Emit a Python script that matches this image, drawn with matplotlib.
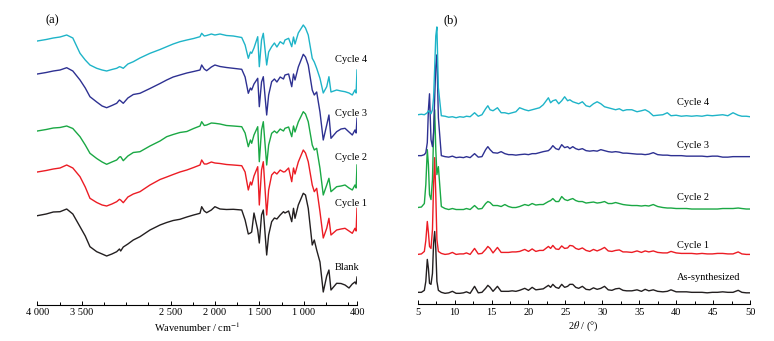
import matplotlib
matplotlib.use("Agg")
import matplotlib.pyplot as plt
from matplotlib.ticker import FixedLocator

plt.rcParams['font.family'] = ['Liberation Serif', 'DejaVu Serif']
plt.rcParams['mathtext.fontset'] = 'stix'
plt.rcParams['font.size'] = 7.5

# ---------------- FTIR data (panel a) ----------------
wavenumber = [4000, 3900, 3820, 3744, 3669, 3600, 3519, 3460, 3407, 3331, 3270, 3219, 3160, 3106,
              3075, 3061, 3032, 2980, 2919, 2844, 2731, 2618, 2543, 2470, 2394, 2316, 2240, 2168,
              2149, 2120, 2093, 2040, 2000, 1943, 1870, 1793, 1698, 1660, 1624, 1600, 1586, 1560,
              1518, 1500, 1475, 1455, 1417, 1395, 1361, 1330, 1302, 1265, 1228, 1211, 1170, 1135,
              1115, 1098, 1061, 1005, 980, 949, 904, 881, 854, 817, 780, 741, 716, 693, 629, 580,
              535, 490, 453, 423, 410, 400]

ir_blank = [0, 1.7, 3.7, 4, 6.7, 1.7, -11, -20.3, -31, -36,
            -38.3, -40.3, -38.3, -36, -33.3, -35.3, -31.3, -28.3, -24.3, -21,
            -14.3, -9.3, -6.8, -4.8, -3.6, -1.3, 0.7, 2.4, 9, 4.7,
            3, 5.7, 9, 6.7, 6.2, 6.4, 5.7, -4.3, -18.3, -17.3,
            -16.3, 2.7, -14.3, -27.3, 0.7, 5.7, -39.3, -19.3, -6, -2.3,
            -3.3, 0.7, 4, 2.7, 4.7, -6, 7.4, -2.6, 10.7, 22.4,
            20.7, 7.4, -29.3, -24.3, -34.3, -46.3, -76.3, -60.3, -54.3, -74.3,
            -67.6, -67.8, -69.3, -72.3, -68.3, -66.3, -68.3, -61.3]
ir_cycle1 = [0, 1.5, 3, 4, 7, 4, -4.7, -15, -26.3, -30.5,
             -33, -34, -32, -29.7, -27.3, -28, -30.7, -25, -22, -19.7,
             -13, -7.5, -5, -2.5, 0, 2, 4.5, 7, 12, 8,
             8, 10, 9, 8.5, 7.5, 7, 6.3, 0, -18, -10,
             -13, -4, 5.3, -33, 2, 10.3, -43, -18, -3, 0,
             -2, 2, 0, 0.3, 4, -9.7, 4, -2, 10, 22,
             19, 10.3, -13, -19.7, -16.3, -39.7, -66, -56.3, -46.3, -63,
             -58, -57, -56.3, -59, -61.3, -56.3, -59, -36.3]
ir_cycle2 = [0, 1.5, 3, 3.5, 5, 2.5, -5.7, -14, -22.3, -27.5,
             -31, -33.3, -31, -29, -26, -25.7, -29.7, -25, -21.5, -20.7,
             -15, -10, -5.7, -3.5, -1.5, -0.5, 2.5, 5, 9.3, 5.5,
             6, 8, 7.7, 7, 5.5, 5, 4.3, -2, -15.7, -9,
             -12.3, -4, 4.3, -30.7, 1, 9.3, -34, -14, -2.3, 0,
             -2, 2, 0, 2.7, 4, -5.7, 5, -1, 9, 19.3,
             17, 9.3, -14, -19, -17.3, -37.3, -64, -54, -47.3, -60.7,
             -55.7, -55, -54, -57, -59, -54, -57, -34]
ir_cycle3 = [0, 1.5, 3, 4, 6.3, 3, -6, -14, -22.7, -28,
             -32, -33.7, -31.5, -29.3, -26, -27, -29.3, -24, -20.5, -19.3,
             -14.5, -9.5, -6, -3, -1, 1, 2.5, 4, 9, 5,
             3.3, 7, 9, 7.5, 6.5, 5.7, 4.7, -3, -19.3, -14,
             -16, -10, -4.3, -32.7, -8, -2.7, -41, -21, -7.7, -5,
             -8, -3, -5, -1, 0, -12.7, 0, -6, 7, 19.7,
             17, 9, -16, -21, -18, -38, -66, -51, -41, -64.3,
             -57.7, -55, -54.3, -58, -61, -56, -59, -44.3]
ir_cycle4 = [0, 1.5, 3, 4, 6, 3, -12.3, -19, -24, -27.3,
             -29, -30, -28.5, -27.3, -25.7, -26, -27.3, -23, -20.7, -17,
             -12.3, -8.5, -5.7, -3, -0.7, 1, 2.5, 4.3, 7.7, 5,
             5.5, 7, 6, 7, 5.5, 5, 3.5, -4, -17.3, -11,
             -12.3, -7, 4.3, -25.7, 1, 7.7, -24, -11, -5.7, -2,
             -6, -0.7, -3, 1, 2.7, -5.7, 4, -3, 8, 16,
             13, 6, -17.3, -21, -27.3, -37.3, -52, -45.7, -35.7, -51,
             -49, -50, -50.7, -52, -54, -49, -52, -29]

# ---------------- XRD data (panel b) ----------------
two_theta = [5.0, 5.5, 5.9, 6.1, 6.3, 6.45, 6.6, 6.8, 7.0, 7.15,
             7.3, 7.45, 7.6, 7.8, 8.2, 8.7, 9.2, 9.7, 10.2, 10.7,
             11.2, 11.6, 12.1, 12.7, 13.2, 13.7, 14.2, 14.5, 14.8, 15.2,
             15.8, 16.3, 16.8, 17.3, 17.8, 18.3, 18.8, 19.5, 20.0, 20.5,
             21.0, 21.5, 22.0, 22.7, 23.0, 23.3, 23.7, 24.1, 24.5, 24.9,
             25.3, 25.6, 26.0, 26.4, 26.8, 27.3, 27.8, 28.3, 28.8, 29.3,
             29.8, 30.3, 30.8, 31.3, 31.8, 32.3, 32.8, 33.3, 34.0, 34.7,
             35.3, 35.8, 36.3, 36.9, 37.5, 38.2, 38.8, 39.3, 40.0, 40.7,
             41.4, 42.1, 42.8, 43.5, 44.2, 44.9, 45.6, 46.3, 47.0, 47.7,
             48.4, 48.9, 49.5, 50.0]

xrd_as = [1, 1, 3, 12, 34, 25, 10, 9, 20, 50,
          62, 45, 12, 3, 1, 0, 0.5, 2, 0, 0,
          0.5, 1.5, 0, 7, 0.5, 1, 5, 8, 6, 2,
          7, 2, 2, 2, 2.5, 2, 3, 5, 3, 6,
          3.5, 4, 4.5, 8, 6, 9, 6, 5, 9, 6,
          7, 9, 9, 6, 5, 7, 4, 3.5, 5.5, 4,
          5, 7, 3.5, 3, 4.5, 5, 3, 2.5, 2.5, 3.5,
          2, 4, 2.5, 3.5, 2, 1.5, 2, 3.5, 1.5, 1.5,
          1.5, 1, 1, 1, 0.5, 1, 1, 1.5, 1, 1,
          3, 1, 0.5, 0.5]
xrd_c1 = [0, 0.5, 3, 14, 33, 22, 8, 6, 25, 70,
          97, 60, 15, 3, 1, 0, 0.5, 2, 0, 0.5,
          0.5, 1.5, 0, 6, 0.5, 1, 5, 8, 6, 1.5,
          7, 2, 2, 2, 2.5, 2.5, 3, 5, 3, 5.5,
          3, 4, 4, 8, 6, 9, 5.5, 5, 8.5, 6,
          6.5, 9, 8.5, 6, 5, 6.5, 4, 3, 5, 3.5,
          5, 7, 3.5, 3, 4, 4.5, 2.5, 2.5, 2, 3.5,
          2, 3.5, 2.5, 3.5, 2, 1.5, 1.5, 3, 1.5, 1,
          1, 1, 0.5, 1, 0.5, 0.5, 1, 1, 0.5, 0.5,
          2.5, 0.5, 0, 0]
xrd_c2 = [2, 2.5, 6, 25, 60, 45, 15, 10, 30, 75,
          100, 60, 35, 43, 3, 1, 0, 1, 0, 0,
          0, 1, 0, 4, 0.5, 1, 6, 8, 7, 4,
          4, 3, 5, 3, 2, 2, 3, 5, 4, 6,
          4.5, 5, 5, 8, 9, 11, 8, 8, 13, 10,
          9, 10, 11, 9, 8, 8, 6.5, 7, 7.5, 6.5,
          7, 8, 6, 6, 7, 6, 5, 4.5, 4, 4,
          3.5, 4, 3.5, 5, 3, 2, 1.5, 1.5, 1, 1,
          1, 0.5, 0.5, 0.5, 0.5, 0.5, 0.5, 1, 1, 1,
          1.5, 1, 0.5, 0.5]
xrd_c3 = [2, 2, 3, 5, 15, 48, 64, 18, 11, 25,
          60, 92, 103, 40, 2, 1, 0.5, 1.5, 0, 0.5,
          0, 1, 0, 4, 0.5, 1, 8, 11, 8, 5,
          4.5, 6, 4, 3, 3, 2.5, 3, 3.5, 3, 4,
          4, 5, 6, 7, 9, 12, 9, 8, 13, 10,
          11, 9, 11, 9, 8, 9, 7, 6.5, 7, 6.5,
          8, 7, 6, 5.5, 6, 5.5, 4.5, 4.5, 4, 3.5,
          3.5, 3, 3.5, 5, 3, 2.5, 2.5, 2, 2, 2,
          1.5, 1.5, 1.5, 1.5, 1, 1.5, 1.5, 0.5, 0.5, 1,
          1, 1, 1, 1]
xrd_c4 = [3, 3.5, 3, 4, 5, 7, 6, 4, 8, 20,
          50, 82, 91, 30, 2, 1.5, 0.5, 1, 0, 1,
          0.5, 1.5, 1, 5, 1.5, 3, 9, 12, 8, 7,
          10, 5, 5, 4, 5, 6, 10, 8, 7, 8,
          9, 10, 13, 20, 15, 17, 18, 14, 17, 21,
          17, 18, 16, 15, 14, 16, 12, 11, 14, 16,
          14, 11, 10, 9, 8, 9, 7, 8, 8, 6,
          7, 8, 6, 2, 2.5, 3, 5, 2, 2.5, 1.5,
          2, 1.5, 2, 1.5, 2.5, 2, 2.5, 3, 2, 5,
          2.5, 1.5, 1.5, 1]

c_black = '#231f20'
c_red = '#ec1c24'
c_green = '#1aa844'
c_blue = '#2e3192'
c_cyan = '#1eb4c8'

fig = plt.figure(figsize=(7.74, 3.41), dpi=100)

def style_axis(ax):
    for s in ('left', 'right', 'top'):
        ax.spines[s].set_visible(False)
    ax.spines['bottom'].set_linewidth(0.8)
    ax.set_yticks([])
    ax.tick_params(axis='x', which='major', direction='in', length=3.2, width=0.7, pad=2.5, labelsize=7.5)
    ax.tick_params(axis='x', which='minor', direction='in', length=2.4, width=0.7)
    ax.set_ylim(0, 305)

# ---------- panel (a) ----------
ax1 = fig.add_axes([37.3 / 774, 36 / 341, 319.7 / 774, 305 / 341])
style_axis(ax1)
ax1.set_xlim(4000, 400)
ir_series = [(ir_blank, c_black, 89.3), (ir_cycle1, c_red, 133), (ir_cycle2, c_green, 174),
             (ir_cycle3, c_blue, 231), (ir_cycle4, c_cyan, 264)]
for vals, col, off in ir_series:
    ax1.plot(wavenumber, [v + off for v in vals], color=col, lw=1.0)
ax1.xaxis.set_major_locator(FixedLocator([4000, 3500, 2500, 2000, 1500, 1000, 400]))
ax1.set_xticklabels(['4 000', '3 500', '2 500', '2 000', '1 500', '1 000', '400'])
ax1.xaxis.set_minor_locator(FixedLocator([3750, 3250, 3000, 2750, 2250, 1750, 1250, 750, 500]))
ax1.set_xlabel('Wavenumber / cm$^{-1}$', fontsize=7.5, labelpad=2)
for txt, y in [('Cycle 4', 245), ('Cycle 3', 192), ('Cycle 2', 147), ('Cycle 1', 101), ('Blank', 37)]:
    ax1.text(648, y, txt, ha='left', va='center', fontsize=7.5)

# ---------- panel (b) ----------
ax2 = fig.add_axes([417.7 / 774, 36.7 / 341, 332.3 / 774, 304.3 / 341])
style_axis(ax2)
ax2.set_xlim(5, 50)
xrd_series = [(xrd_as, c_black, 11), (xrd_c1, c_red, 50), (xrd_c2, c_green, 95),
              (xrd_c3, c_blue, 147), (xrd_c4, c_cyan, 187)]
for vals, col, off in xrd_series:
    ax2.plot(two_theta, [v + off for v in vals], color=col, lw=1.0)
ax2.xaxis.set_major_locator(FixedLocator(list(range(5, 51, 5))))
ax2.xaxis.set_minor_locator(FixedLocator([7.5 + 5 * i for i in range(9)]))
ax2.set_xlabel(r'2$\theta$ / (°)', fontsize=7.5, labelpad=2)
for txt, y in [('Cycle 4', 202), ('Cycle 3', 159), ('Cycle 2', 107), ('Cycle 1', 59), ('As-synthesized', 27)]:
    ax2.text(40.1, y, txt, ha='left', va='center', fontsize=7.5)

fig.text(46 / 774, 1 - 20 / 341, '(a)', ha='left', va='center', fontsize=9)
fig.text(443 / 774, 1 - 20 / 341, '(b)', ha='left', va='center', fontsize=9)

fig.savefig('out.png', dpi=100)
